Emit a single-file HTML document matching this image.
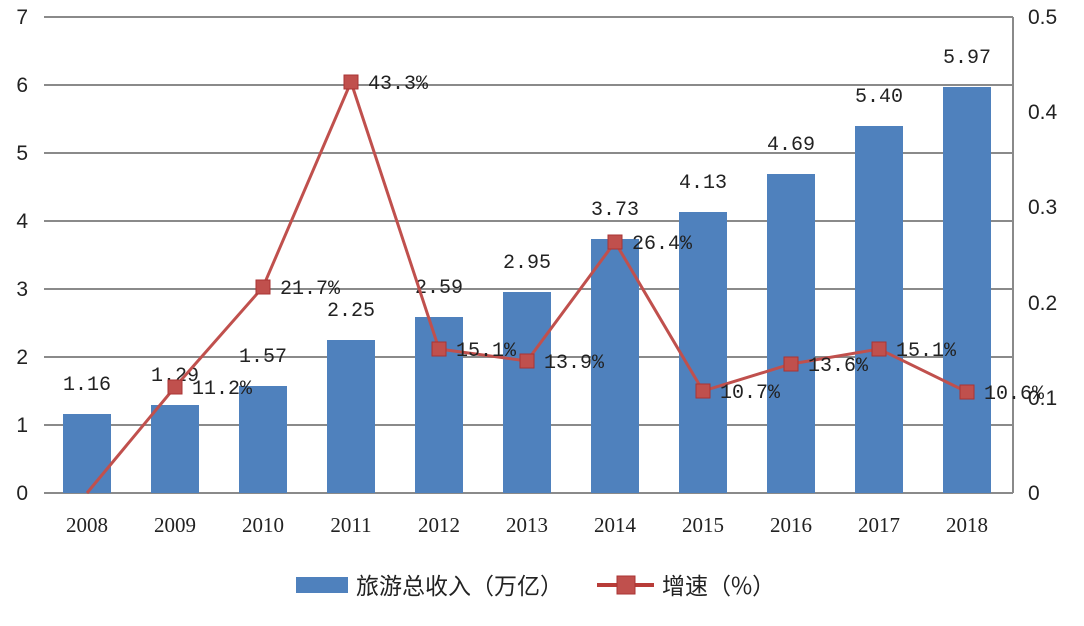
<!DOCTYPE html>
<html><head><meta charset="utf-8"><style>
html,body{margin:0;padding:0;background:#fff}
svg text{fill:#222}
.m{font-family:"Liberation Mono",monospace}
.s{font-family:"Liberation Sans",sans-serif}
.r{font-family:"Liberation Serif",serif}
.c{font-family:"Noto Sans CJK SC",sans-serif}
</style></head><body>
<svg width="1084" height="621" viewBox="0 0 1084 621" xmlns="http://www.w3.org/2000/svg">
<g stroke="#8a8a8a" stroke-width="2">
<line x1="44" y1="17" x2="1013" y2="17"/>
<line x1="44" y1="85" x2="1013" y2="85"/>
<line x1="44" y1="153" x2="1013" y2="153"/>
<line x1="44" y1="221" x2="1013" y2="221"/>
<line x1="44" y1="289" x2="1013" y2="289"/>
<line x1="44" y1="357" x2="1013" y2="357"/>
<line x1="44" y1="425" x2="1013" y2="425"/>
<line x1="44" y1="493" x2="1013" y2="493"/>
<line x1="1013" y1="17" x2="1013" y2="493"/>
</g>
<g font-size="21" text-anchor="end" class="s">
<text class="s" x="28" y="24">7</text><text class="s" x="28" y="92">6</text><text class="s" x="28" y="160">5</text><text class="s" x="28" y="228">4</text><text class="s" x="28" y="296">3</text><text class="s" x="28" y="364">2</text><text class="s" x="28" y="432">1</text><text class="s" x="28" y="500">0</text>
</g>
<g font-size="21" text-anchor="start">
<text class="s" x="1028" y="24">0.5</text><text class="s" x="1028" y="119">0.4</text><text class="s" x="1028" y="214">0.3</text><text class="s" x="1028" y="310">0.2</text><text class="s" x="1028" y="405">0.1</text><text class="s" x="1028" y="500">0</text>
</g>
<g fill="#4f81bd">
<rect x="63" y="414" width="48" height="79"/>
<rect x="151" y="405" width="48" height="88"/>
<rect x="239" y="386" width="48" height="107"/>
<rect x="327" y="340" width="48" height="153"/>
<rect x="415" y="317" width="48" height="176"/>
<rect x="503" y="292" width="48" height="201"/>
<rect x="591" y="239" width="48" height="254"/>
<rect x="679" y="212" width="48" height="281"/>
<rect x="767" y="174" width="48" height="319"/>
<rect x="855" y="126" width="48" height="367"/>
<rect x="943" y="87" width="48" height="406"/>
</g>
<g font-size="20" text-anchor="middle">
<text class="m" x="87" y="390">1.16</text><text class="m" x="175" y="381">1.29</text><text class="m" x="263" y="362">1.57</text><text class="m" x="351" y="316">2.25</text><text class="m" x="439" y="293">2.59</text><text class="m" x="527" y="268">2.95</text><text class="m" x="615" y="215">3.73</text><text class="m" x="703" y="188">4.13</text><text class="m" x="791" y="150">4.69</text><text class="m" x="879" y="102">5.40</text><text class="m" x="967" y="63">5.97</text>
</g>
<polyline fill="none" stroke="#c0504d" stroke-width="3" points="87,493 175,387 263,287 351,82 439,349 527,361 615,242 703,391 791,364 879,349 967,392"/>
<g fill="#c0504d" stroke="#a33" stroke-width="1">
<rect x="168" y="380" width="14" height="14"/><rect x="256" y="280" width="14" height="14"/><rect x="344" y="75" width="14" height="14"/><rect x="432" y="342" width="14" height="14"/><rect x="520" y="354" width="14" height="14"/><rect x="608" y="235" width="14" height="14"/><rect x="696" y="384" width="14" height="14"/><rect x="784" y="357" width="14" height="14"/><rect x="872" y="342" width="14" height="14"/><rect x="960" y="385" width="14" height="14"/>
</g>
<g font-size="20">
<text class="m" x="192" y="394">11.2%</text><text class="m" x="280" y="294">21.7%</text><text class="m" x="368" y="89">43.3%</text><text class="m" x="456" y="356">15.1%</text><text class="m" x="544" y="368">13.9%</text><text class="m" x="632" y="249">26.4%</text><text class="m" x="720" y="398">10.7%</text><text class="m" x="808" y="371">13.6%</text><text class="m" x="896" y="356">15.1%</text><text class="m" x="984" y="399">10.6%</text>
</g>
<g font-size="21" text-anchor="middle">
<text class="r" x="87" y="532">2008</text><text class="r" x="175" y="532">2009</text><text class="r" x="263" y="532">2010</text><text class="r" x="351" y="532">2011</text><text class="r" x="439" y="532">2012</text><text class="r" x="527" y="532">2013</text><text class="r" x="615" y="532">2014</text><text class="r" x="703" y="532">2015</text><text class="r" x="791" y="532">2016</text><text class="r" x="879" y="532">2017</text><text class="r" x="967" y="532">2018</text>
</g>
<rect x="296" y="577" width="52" height="16" fill="#4f81bd"/>
<text class="c" x="356" y="594" font-size="23">旅游总收入（万亿）</text>
<line x1="597" y1="585" x2="654" y2="585" stroke="#b83c38" stroke-width="4"/>
<rect x="617" y="576" width="18" height="18" fill="#c0504d" stroke="#a33"/>
<text class="c" x="662" y="594" font-size="23">增速（%）</text>
</svg>
</body></html>
